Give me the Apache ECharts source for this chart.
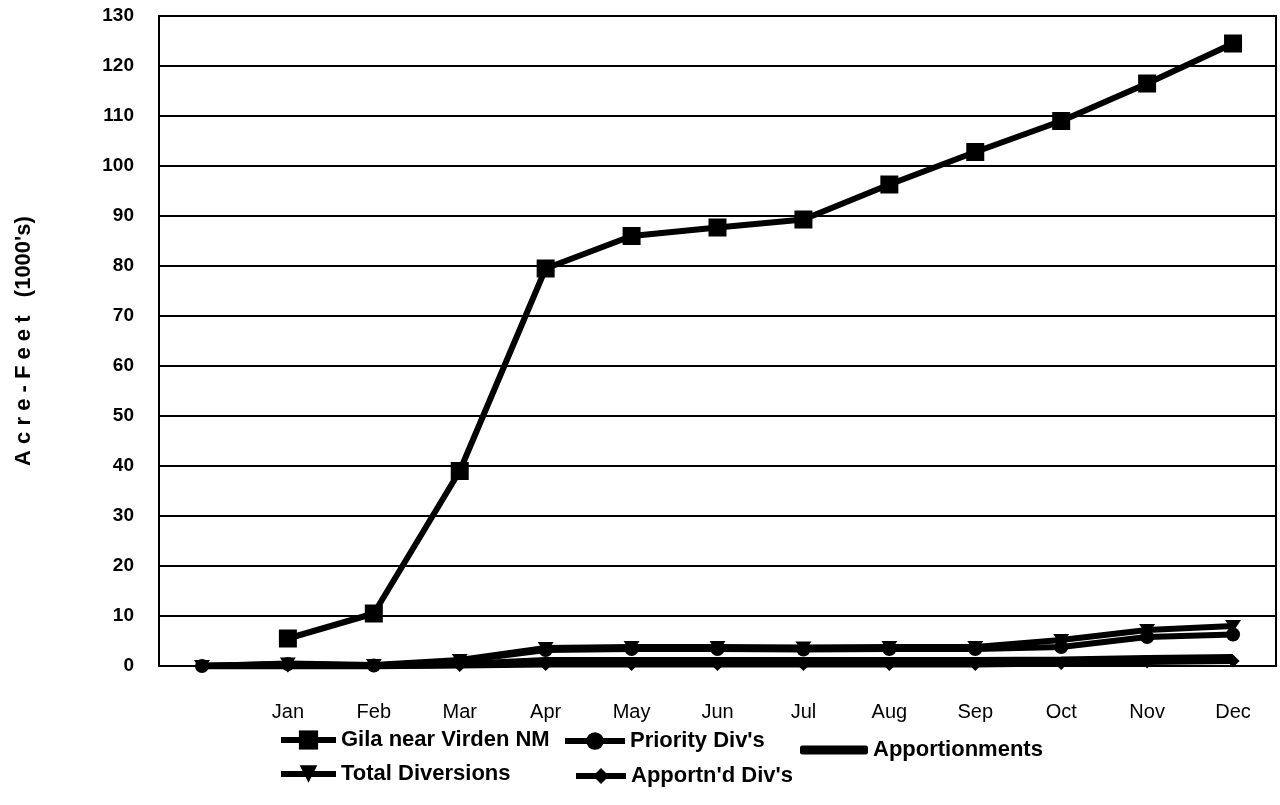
<!DOCTYPE html>
<html>
<head>
<meta charset="utf-8">
<script src="https://cdn.jsdelivr.net/npm/echarts@6/dist/echarts.min.js"></script>
<style>html,body{margin:0;padding:0;background:#fff}#c{width:1280px;height:805px}</style>
</head>
<body>
<div id="c"></div>
<script>
const categories = ['', 'Jan', 'Feb', 'Mar', 'Apr', 'May', 'Jun', 'Jul', 'Aug', 'Sep', 'Oct', 'Nov', 'Dec'];
const gila = [null, 5.5, 10.5, 39, 79.5, 86, 87.7, 89.3, 96.3, 102.8, 109, 116.5, 124.5];
const totalDiv = [0, 0.5, 0.2, 1.2, 3.6, 3.8, 3.8, 3.7, 3.8, 3.8, 5.2, 7.2, 8.0];
const priorityDiv = [0, 0.4, 0.1, 1.0, 3.2, 3.4, 3.4, 3.3, 3.4, 3.4, 3.8, 5.8, 6.3];
const apportionments = [0, 0, 0, 0.3, 1.1, 1.1, 1.1, 1.1, 1.1, 1.1, 1.2, 1.5, 1.7];
const apportnDiv = [0, 0, 0, 0.1, 0.3, 0.3, 0.3, 0.3, 0.3, 0.3, 0.5, 0.8, 1.0];
const yTicks = {min: 0, max: 130, interval: 10};

const chart = echarts.init(document.getElementById('c'));
const legendText = {color: '#000', fontFamily: 'Liberation Sans, Arial, sans-serif', fontWeight: 'bold', fontSize: 22};
function lg(item, left, top, w, h) {
  return {data: [item], left: left, top: top, itemWidth: w, itemHeight: h, itemGap: 0,
    textStyle: legendText, selectedMode: false, padding: 0,
    lineStyle: {width: 6}};
}
chart.setOption({
  animation: false,
  backgroundColor: '#fff',
  grid: {left: 159, right: 4, top: 16, bottom: 139, show: true, borderColor: '#000', borderWidth: 2},
  legend: [
    lg('Gila near Virden NM', 278, 729, 55, 24),
    lg("Priority Div's", 562, 730, 60, 22),
    lg({name: 'Apportionments', icon: 'roundRect'}, 800, 739, 68, 9),
    lg('Total Diversions', 278, 763, 55, 22),
    lg("Apportn'd Div's", 573, 765, 50, 20)
  ],
  xAxis: {
    type: 'category', data: categories, boundaryGap: true,
    axisLine: {lineStyle: {color: '#000', width: 2}},
    axisTick: {show: false},
    axisLabel: {color: '#000', fontSize: 20, fontFamily: 'Liberation Sans Narrow, Arial Narrow, Liberation Sans, sans-serif', margin: 36}
  },
  yAxis: {
    type: 'value', min: yTicks.min, max: yTicks.max, interval: yTicks.interval,
    name: "A c r e - F e e t   (1000's)", nameLocation: 'middle', nameGap: 124, nameRotate: 90,
    nameTextStyle: {color: '#000', fontSize: 22, fontWeight: 'bold', fontFamily: 'Liberation Sans, Arial, sans-serif'},
    axisLine: {show: true, lineStyle: {color: '#000', width: 2}},
    axisTick: {show: false},
    splitLine: {lineStyle: {color: '#000', width: 2}},
    axisLabel: {color: '#000', fontSize: 19, fontWeight: 'bold', fontFamily: 'Liberation Sans, Arial, sans-serif', margin: 25}
  },
  series: [
    {name: 'Gila near Virden NM', type: 'line', data: gila, symbol: 'rect', symbolSize: 18,
     lineStyle: {color: '#000', width: 6}, itemStyle: {color: '#000'}, z: 5},
    {name: "Priority Div's", type: 'line', data: priorityDiv, symbol: 'circle', symbolSize: 14,
     lineStyle: {color: '#000', width: 6}, itemStyle: {color: '#000'}},
    {name: 'Apportionments', type: 'line', data: apportionments, symbol: 'none',
     lineStyle: {color: '#000', width: 7}, itemStyle: {color: '#000'}},
    {name: 'Total Diversions', type: 'line', data: totalDiv, symbol: 'triangle', symbolRotate: 180, symbolSize: [16, 12],
     lineStyle: {color: '#000', width: 6}, itemStyle: {color: '#000'}},
    {name: "Apportn'd Div's", type: 'line', data: apportnDiv, symbol: 'diamond', symbolSize: 13,
     lineStyle: {color: '#000', width: 6}, itemStyle: {color: '#000'}}
  ]
});
</script>
</body>
</html>
